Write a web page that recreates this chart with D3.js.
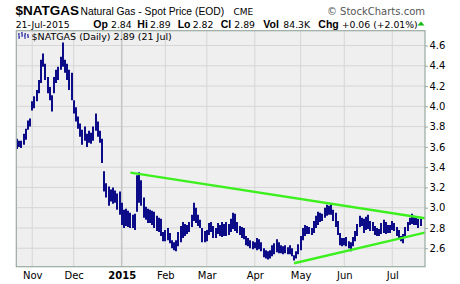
<!DOCTYPE html>
<html>
<head>
<meta charset="utf-8">
<script src="https://cdn.jsdelivr.net/npm/d3@7"></script>
<style>
  body { margin: 0; background: #fff; }
  svg { display: block; }
</style>
</head>
<body>
<div id="chart"></div>
<script>
const w = 460;
const h = 284;

// daily high / low, one per trading day, 23-Oct-2014 .. 21-Jul-2015
const highs = [
  3.68, 3.66, 3.66, 3.73, 3.78, 3.86, 3.88, 4.05, 4.10, 4.16,
  4.26, 4.46, 4.52, 4.42, 4.29, 4.19, 4.11, 4.29, 4.36, 4.39,
  4.49, 4.63, 4.46, 4.42, 4.36, 4.33, 4.06, 3.99, 3.90, 3.83,
  3.77, 3.80, 3.73, 3.76, 3.74, 3.80, 3.93, 3.85, 3.76, 3.68,
  3.36, 3.24, 3.21, 3.18, 3.20, 3.17, 3.14, 3.16, 3.05, 2.98,
  2.99, 2.97, 2.95, 2.93, 2.94, 3.32, 3.35, 3.27, 3.10, 3.01,
  2.99, 2.98, 2.97, 2.96, 2.92, 2.90, 2.89, 2.76, 2.78, 2.80,
  2.75, 2.68, 2.66, 2.68, 2.76, 2.82, 2.86, 2.84, 2.83, 2.86,
  2.93, 3.05, 3.00, 2.93, 2.88, 2.80, 2.77, 2.78, 2.85, 2.86,
  2.82, 2.80, 2.85, 2.83, 2.86, 2.84, 2.86, 2.84, 2.89, 2.95,
  2.94, 2.86, 2.82, 2.81, 2.80, 2.72, 2.70, 2.68, 2.67, 2.66,
  2.70, 2.69, 2.66, 2.60, 2.58, 2.57, 2.58, 2.63, 2.65, 2.69,
  2.66, 2.63, 2.62, 2.63, 2.61, 2.63, 2.60, 2.53, 2.57, 2.64,
  2.72, 2.80, 2.83, 2.82, 2.81, 2.80, 2.87, 2.92, 2.96, 2.95,
  2.94, 3.00, 3.03, 3.02, 3.04, 2.98, 2.95, 2.87, 2.75, 2.70,
  2.70, 2.71, 2.67, 2.66, 2.71, 2.77, 2.84, 2.92, 2.90, 2.89,
  2.91, 2.93, 2.87, 2.86, 2.82, 2.80, 2.79, 2.85, 2.88, 2.86,
  2.83, 2.83, 2.87, 2.85, 2.81, 2.78, 2.72, 2.74, 2.81, 2.86,
  2.90, 2.94, 2.92, 2.91, 2.89, 2.89
];
const lows = [
  3.58, 3.60, 3.59, 3.62, 3.67, 3.77, 3.80, 3.96, 3.98, 4.05,
  4.13, 4.23, 4.39, 4.26, 4.13, 4.06, 3.95, 4.13, 4.23, 4.26,
  4.36, 4.39, 4.33, 4.26, 4.16, 4.06, 3.93, 3.85, 3.78, 3.70,
  3.62, 3.66, 3.60, 3.64, 3.63, 3.66, 3.76, 3.70, 3.64, 3.44,
  3.16, 3.10, 3.02, 3.06, 3.04, 3.05, 2.98, 2.93, 2.83, 2.80,
  2.82, 2.81, 2.80, 2.80, 2.78, 2.96, 3.05, 3.02, 2.90, 2.88,
  2.85, 2.85, 2.83, 2.80, 2.77, 2.76, 2.72, 2.67, 2.67, 2.68,
  2.65, 2.60, 2.58, 2.57, 2.62, 2.66, 2.70, 2.72, 2.74, 2.76,
  2.81, 2.87, 2.85, 2.82, 2.80, 2.66, 2.66, 2.67, 2.73, 2.76,
  2.70, 2.70, 2.74, 2.72, 2.71, 2.72, 2.72, 2.73, 2.76, 2.79,
  2.77, 2.75, 2.73, 2.70, 2.69, 2.63, 2.62, 2.60, 2.59, 2.60,
  2.58, 2.59, 2.57, 2.51, 2.50, 2.49, 2.50, 2.52, 2.54, 2.56,
  2.55, 2.55, 2.54, 2.55, 2.54, 2.54, 2.52, 2.48, 2.50, 2.54,
  2.58, 2.68, 2.72, 2.74, 2.74, 2.73, 2.75, 2.80, 2.83, 2.86,
  2.87, 2.90, 2.92, 2.93, 2.93, 2.87, 2.81, 2.73, 2.63, 2.62,
  2.63, 2.62, 2.60, 2.57, 2.62, 2.67, 2.72, 2.81, 2.82, 2.75,
  2.78, 2.79, 2.77, 2.77, 2.73, 2.72, 2.72, 2.74, 2.75, 2.74,
  2.75, 2.75, 2.78, 2.77, 2.72, 2.70, 2.67, 2.65, 2.72, 2.77,
  2.83, 2.84, 2.83, 2.83, 2.80, 2.82
];

const monthLabels = ["Nov", "Dec", "2015", "Feb", "Mar", "Apr", "May", "Jun", "Jul"];
const monthIndex = [7, 26, 48, 68, 87, 109, 130, 150, 172];
const yTicks = [2.6, 2.8, 3.0, 3.2, 3.4, 3.6, 3.8, 4.0, 4.2, 4.4, 4.6];

// user trendlines: [index, price]
const upperTrend = [[52, 3.346], [187, 2.896]];
const lowerTrend = [[127, 2.452], [187, 2.754]];

const pLeft = 16.3, pRight = 425, pTop = 30.7, pBottom = 266.7;

const xScale = d3.scaleLinear().domain([-0.3, 187]).range([pLeft, pRight]);
const yScale = d3.scaleLinear().domain([2.418, 4.746]).range([pBottom, pTop]);

const svg = d3.select("#chart").append("svg")
    .attr("width", w)
    .attr("height", h);

const sans = "Liberation Sans, Arial, sans-serif";
const verd = "DejaVu Sans, Verdana, sans-serif";

// header
const head = svg.append("g").attr("font-family", sans).attr("fill", "#000");
head.append("text").attr("x", 15.5).attr("y", 15).attr("font-size", 13.5).attr("font-weight", "bold").text("$NATGAS");
head.append("text").attr("x", 80.5).attr("y", 15).attr("font-size", 10.3).text("Natural Gas - Spot Price (EOD)");
head.append("text").attr("x", 233.5).attr("y", 15).attr("font-size", 9)
    .attr("font-family", verd).text("CME");
head.append("text").attr("x", 425).attr("y", 14.5).attr("font-size", 10).attr("text-anchor", "end")
    .attr("font-family", verd).attr("fill", "#555").text("\u00a9 StockCharts.com");

const stats = [
  ["21-Jul-2015", false, 15.7],
  ["Op", true, 93.3], ["2.84", false, 111],
  ["Hi", true, 137.3], ["2.89", false, 150],
  ["Lo", true, 177.7], ["2.82", false, 192.7],
  ["Cl", true, 220.7], ["2.89", false, 234.3],
  ["Vol", true, 263.3], ["84.3K", false, 283.3],
  ["Chg", true, 318.3], ["+0.06 (+2.01%)", false, 341.7]
];
head.selectAll(".stat")
    .data(stats)
    .enter()
    .append("text")
    .attr("class", "stat")
    .attr("x", d => d[2])
    .attr("y", 27.5)
    .attr("font-size", d => d[1] ? 10.5 : 9.3)
    .attr("font-weight", d => d[1] ? "bold" : "normal")
    .attr("font-family", d => d[1] ? sans : verd)
    .text(d => d[0]);
head.append("path").attr("d", "M417.5,25.5 L424.5,25.5 L421,21.5 Z").attr("fill", "#11bb11");

// plot area
svg.append("rect")
    .attr("x", pLeft).attr("y", pTop)
    .attr("width", pRight - pLeft).attr("height", pBottom - pTop)
    .attr("fill", "#efefef");

svg.append("g")
    .selectAll("line")
    .data(yTicks)
    .enter()
    .append("line")
    .attr("x1", pLeft).attr("x2", pRight)
    .attr("y1", d => yScale(d)).attr("y2", d => yScale(d))
    .attr("stroke", "#d6d6d6").attr("stroke-width", 1);

svg.append("g")
    .selectAll("line")
    .data(monthIndex)
    .enter()
    .append("line")
    .attr("x1", d => xScale(d)).attr("x2", d => xScale(d))
    .attr("y1", pTop).attr("y2", pBottom)
    .attr("stroke", d => d === 48 ? "#c4c4c4" : "#d6d6d6").attr("stroke-width", d => d === 48 ? 1.5 : 1);

svg.append("clipPath").attr("id", "clip")
    .append("rect").attr("x", pLeft).attr("y", pTop).attr("width", pRight - pLeft).attr("height", pBottom - pTop);

const plot = svg.append("g").attr("clip-path", "url(#clip)");

plot.selectAll(".bar")
    .data(highs)
    .enter()
    .append("line")
    .attr("class", "bar")
    .attr("x1", (d, i) => Math.round(xScale(i))).attr("x2", (d, i) => Math.round(xScale(i)))
    .attr("y1", d => yScale(d))
    .attr("y2", (d, i) => yScale(lows[i]))
    .attr("stroke", "#0c0c88")
    .attr("stroke-width", 2);

const trend = d3.line().x(d => xScale(d[0])).y(d => yScale(d[1]));
plot.selectAll(".trend")
    .data([upperTrend, lowerTrend])
    .enter()
    .append("path")
    .attr("class", "trend")
    .attr("d", trend)
    .attr("fill", "none")
    .attr("stroke", "#3cf01e")
    .attr("stroke-width", 2.4);

// legend
const leg = svg.append("g");
leg.append("path")
    .attr("d", "M19,33v6M18,34h1M19,37h1M22,32v5M21,33h1M22,35h1M25,33v6M24,36h1M25,34h1M28,34v4M27,35h1M28,37h1")
    .attr("stroke", "#1a1aa0").attr("stroke-width", 1).attr("fill", "none");
leg.append("text")
    .attr("x", 31.5).attr("y", 39.5)
    .attr("font-family", verd)
    .attr("font-size", 9.5)
    .text("$NATGAS (Daily) 2.89 (21 Jul)");

svg.append("rect")
    .attr("x", pLeft).attr("y", pTop)
    .attr("width", pRight - pLeft).attr("height", pBottom - pTop)
    .attr("fill", "none").attr("stroke", "#9aaaa2").attr("stroke-width", 1.2);

// right axis
const yAxis = d3.axisRight(yScale).tickValues(yTicks).tickFormat(d3.format(".1f")).tickSize(3).tickPadding(1.5);
const ya = svg.append("g").attr("transform", "translate(" + pRight + ",0)").call(yAxis);
ya.select(".domain").remove();
ya.selectAll("line").attr("stroke", "#9aaaa2");
ya.selectAll("text").attr("font-family", verd).attr("font-size", 10).attr("fill", "#000");

// bottom axis
const xAxis = d3.axisBottom(xScale).tickValues(monthIndex).tickFormat((d, i) => monthLabels[i]).tickSize(0).tickPadding(5);
const xa = svg.append("g").attr("transform", "translate(0," + pBottom + ")").call(xAxis);
xa.select(".domain").remove();
xa.selectAll("text")
    .attr("font-family", verd)
    .attr("font-size", 10)
    .attr("fill", "#000")
    .attr("font-weight", (d, i) => monthLabels[i] === "2015" ? "bold" : "normal");
</script>
</body>
</html>
